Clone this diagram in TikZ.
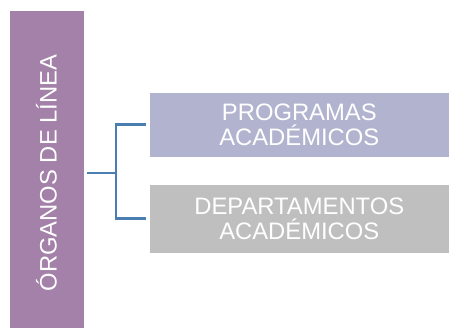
\documentclass[tikz,border=0pt]{standalone}
\usepackage{fontspec}
\setmainfont{Liberation Sans}
\definecolor{leftpurple}{HTML}{A381A9}
\definecolor{boxblue}{HTML}{B2B4CF}
\definecolor{boxgray}{HTML}{BFBFBF}
\definecolor{linkblue}{HTML}{4A7EB0}
\begin{document}
\begin{tikzpicture}[x=1pt,y=1pt,
  box/.style={draw=white, line width=0.6pt, inner sep=0pt, text=white, font=\fontsize{23.8}{25}\selectfont, align=center},
  link/.style={draw=linkblue, line width=2.6pt}]
\useasboundingbox (0,0) rectangle (449,328);
\node[box, fill=leftpurple, minimum width=75pt, minimum height=318pt] (root) at (46.5,159) {};
\node[rotate=90, text=white, font=\fontsize{23.8}{25}\selectfont] (roottext) at (46.5,155) {ÓRGANOS DE LÍNEA};
\node[box, fill=boxblue, minimum width=300pt, minimum height=65pt, anchor=west] (prog) at (149,203.5) {PROGRAMAS\\ACADÉMICOS};
\node[box, fill=boxgray, minimum width=300pt, minimum height=69pt, anchor=west] (dept) at (149,109.5) {DEPARTAMENTOS\\ACADÉMICOS};
\coordinate (j) at (116,155);
\draw[link] (root.east |- j) ++(3,0) -- (j);
\draw[link] (prog.west) ++(-3,0) -| (j);
\draw[link] (dept.west) ++(-3,0) -| (j);
\end{tikzpicture}
\end{document}
